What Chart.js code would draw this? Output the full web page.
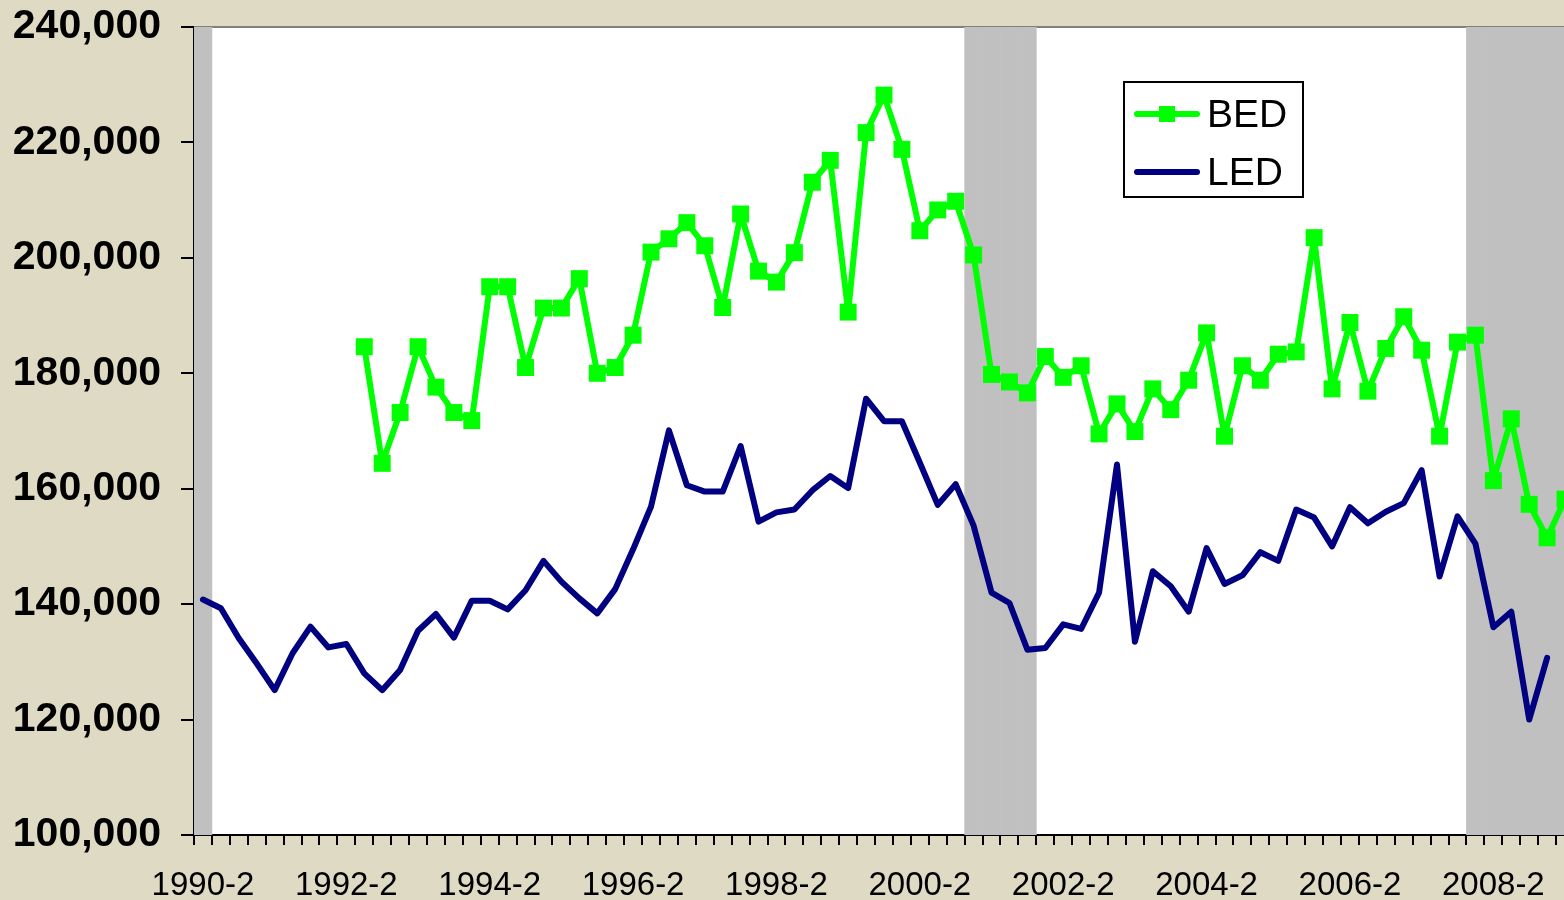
<!DOCTYPE html>
<html>
<head>
<meta charset="utf-8">
<script src="https://cdn.jsdelivr.net/npm/chart.js@4"></script>
<style>
  html, body { margin: 0; padding: 0; overflow: hidden; background: #dfdac4; }
</style>
</head>
<body>
<canvas id="chart" width="1586" height="900"></canvas>
<script>
// quarters, 1990-2 .. 2009-2
let quarters = [
  '1990-2','1990-3','1990-4',
  '1991-1','1991-2','1991-3','1991-4','1992-1','1992-2','1992-3','1992-4',
  '1993-1','1993-2','1993-3','1993-4','1994-1','1994-2','1994-3','1994-4',
  '1995-1','1995-2','1995-3','1995-4','1996-1','1996-2','1996-3','1996-4',
  '1997-1','1997-2','1997-3','1997-4','1998-1','1998-2','1998-3','1998-4',
  '1999-1','1999-2','1999-3','1999-4','2000-1','2000-2','2000-3','2000-4',
  '2001-1','2001-2','2001-3','2001-4','2002-1','2002-2','2002-3','2002-4',
  '2003-1','2003-2','2003-3','2003-4','2004-1','2004-2','2004-3','2004-4',
  '2005-1','2005-2','2005-3','2005-4','2006-1','2006-2','2006-3','2006-4',
  '2007-1','2007-2','2007-3','2007-4','2008-1','2008-2','2008-3','2008-4',
  '2009-1','2009-2'
];

let bed = [
  null, null, null, null, null, null, null, null, null,
  184600, 164400, 173200, 184600, 177600, 173200, 171800, 195000, 195000, 181000,
  191300, 191300, 196400, 180000, 181000, 186600, 201000, 203300, 206100, 202100,
  191400, 207600, 197700, 195800, 200900, 213100, 216900, 190600, 221700, 228200,
  218800, 204700, 208300, 209800, 200500, 179800, 178500, 176600, 182900, 179300,
  181300, 169500, 174700, 169900, 177300, 173700, 178800, 187000, 169100, 181300,
  178800, 183300, 183700, 203500, 177300, 188800, 176900, 184300, 189800, 184000,
  169100, 185400, 186600, 161400, 172100, 157300, 151500, 158200
];

let led = [
  140800, 139300, 134100, 129700, 125100, 131500, 136100, 132500, 133100, 128000,
  125100, 128600, 135400, 138300, 134200, 140600, 140600, 139100, 142400, 147500,
  143900, 141000, 138400, 142600, 149500, 156900, 170100, 160600, 159500, 159500,
  167400, 154300, 155900, 156400, 159700, 162200, 160100, 175600, 171700, 171700,
  164500, 157200, 160800, 153600, 142000, 140200, 132100, 132400, 136500, 135700,
  142000, 164200, 133500, 145700, 143100, 138700, 149700, 143500, 145000, 149000,
  147500, 156400, 155000, 150000, 156800, 154000, 156000, 157500, 163200, 144800,
  155200, 150500, 136000, 138700, 120000, 130700, null
];

// shaded recession quarters
let recession = [
  '1990-2',
  '2001-1','2001-2','2001-3','2001-4',
  '2008-1','2008-2','2008-3','2008-4','2009-1','2009-2'
];

let yTicks = [100000, 120000, 140000, 160000, 180000, 200000, 220000, 240000];

let shade = quarters.map(q => recession.includes(q) ? 1 : null);

let hintergrund = {
  id: 'hintergrund',
  beforeDraw(chart) {
    let c = chart.ctx, a = chart.chartArea;
    c.save();
    c.fillStyle = '#dfdac4';
    c.fillRect(0, 0, chart.width, chart.height);
    c.fillStyle = '#ffffff';
    c.fillRect(a.left, a.top, a.right - a.left, a.bottom - a.top);
    c.restore();
  },
  beforeDatasetsDraw(chart) {
    let c = chart.ctx, a = chart.chartArea;
    c.save();
    c.strokeStyle = '#808080';
    c.lineWidth = 2;
    c.beginPath();
    c.moveTo(a.left, a.top);
    c.lineTo(a.right, a.top);
    c.stroke();
    c.restore();
  },
  afterDraw(chart) {
    // legend box
    let c = chart.ctx;
    c.save();
    c.fillStyle = '#ffffff';
    c.fillRect(1124, 82, 179, 115);
    c.strokeStyle = '#000000';
    c.lineWidth = 2;
    c.strokeRect(1124, 82, 179, 115);
    let rows = [chart.data.datasets[0], chart.data.datasets[1]];
    let ys = [114, 172];
    rows.forEach((ds, i) => {
      c.strokeStyle = ds.borderColor;
      c.lineWidth = 6;
      c.lineCap = 'round';
      c.beginPath();
      c.moveTo(1137, ys[i]);
      c.lineTo(1197, ys[i]);
      c.stroke();
      if (ds.pointRadius > 0) {
        c.fillStyle = ds.pointBackgroundColor;
        c.fillRect(1159, ys[i] - 8, 16, 16);
      }
      c.fillStyle = '#000000';
      c.font = '39px "Liberation Sans", Arial, sans-serif';
      c.textBaseline = 'middle';
      c.fillText(ds.label, 1207, ys[i] + 2);
    });
    c.restore();
  }
};

let kanvas = document.getElementById('chart');

let grafik = new Chart(kanvas, {
  type: 'line',
  data: {
    labels: quarters,
    datasets: [{
      label: 'BED',
      data: bed,
      borderColor: '#00ff00',
      backgroundColor: '#00ff00',
      borderWidth: 6,
      borderJoinStyle: 'round',
      pointStyle: 'rect',
      pointRadius: 12,
      pointBorderWidth: 0,
      pointBackgroundColor: '#00ff00',
      tension: 0,
      order: 1
    }, {
      label: 'LED',
      data: led,
      borderColor: '#000080',
      backgroundColor: '#000080',
      borderWidth: 6,
      borderJoinStyle: 'round',
      borderCapStyle: 'round',
      pointRadius: 0,
      tension: 0,
      order: 2
    }, {
      type: 'bar',
      label: 'Recession',
      data: shade,
      yAxisID: 'y2',
      backgroundColor: '#c0c0c0',
      borderWidth: 0,
      barPercentage: 1,
      categoryPercentage: 1,
      order: 3
    }]
  },
  options: {
    responsive: false,
    animation: false,
    layout: { padding: { top: 27, right: 2, left: 0, bottom: 0 } },
    plugins: {
      legend: { display: false },
      tooltip: { enabled: false }
    },
    scales: {
      x: {
        offset: true,
        grid: {
          offset: true,
          drawOnChartArea: false,
          drawTicks: true,
          tickLength: 10,
          color: '#000000',
          lineWidth: 2
        },
        border: { color: '#000000', width: 2 },
        ticks: {
          autoSkip: false,
          maxRotation: 0,
          padding: 21,
          color: '#000000',
          font: { family: '"Liberation Sans", Arial, sans-serif', size: 33 },
          callback: function (v, i) { return i % 8 === 0 ? quarters[i] : ''; }
        },
        afterFit: function (s) { s.height = 65; s.paddingLeft = 0; s.paddingRight = 0; }
      },
      y: {
        min: yTicks[0],
        max: yTicks[yTicks.length - 1],
        afterBuildTicks: function (s) { s.ticks = yTicks.map(v => ({ value: v })); },
        grid: {
          drawOnChartArea: false,
          drawTicks: true,
          tickLength: 13,
          color: '#000000',
          lineWidth: 2
        },
        border: { color: '#000000', width: 2 },
        ticks: {
          padding: 20,
          color: '#000000',
          font: { family: '"Liberation Sans", Arial, sans-serif', size: 41, weight: 'bold' },
          callback: function (v) { return v.toLocaleString('en-US'); }
        },
        afterFit: function (s) { s.width = 194; s.paddingTop = 0; s.paddingBottom = 0; }
      },
      y2: {
        display: false,
        min: 0,
        max: 1
      }
    }
  },
  plugins: [hintergrund]
});
</script>
</body>
</html>
